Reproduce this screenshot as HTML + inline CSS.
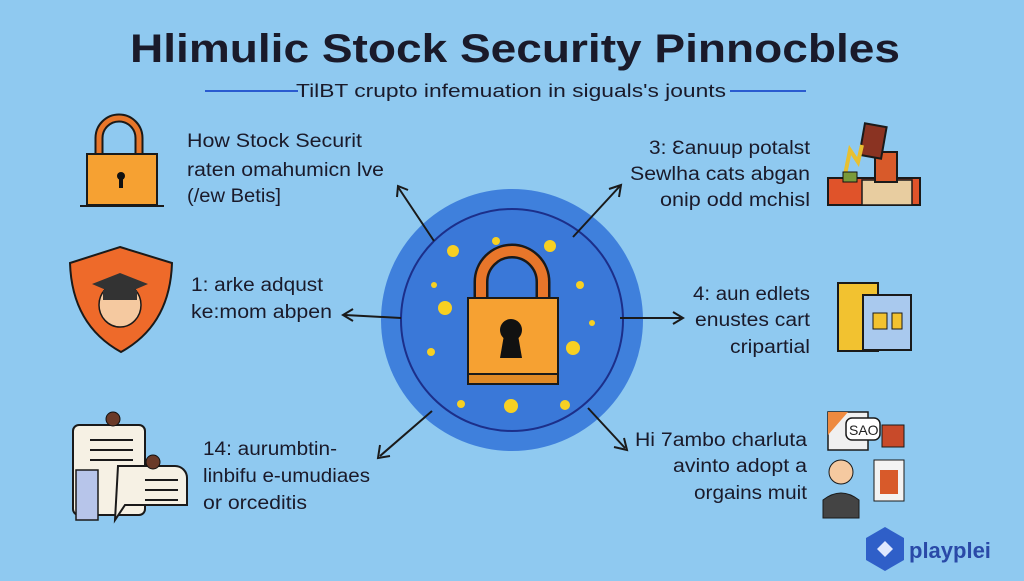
<!DOCTYPE html>
<html><head><style>
body{margin:0;width:1024px;height:576px;overflow:hidden;background:#8fc9f0;font-family:"Liberation Sans",sans-serif;}
</style></head><body>
<svg width="1024" height="576" viewBox="0 0 1024 576" xmlns="http://www.w3.org/2000/svg" font-family="Liberation Sans, sans-serif">
<rect width="1024" height="576" fill="#8fc9f0"/>
<text x="130" y="62" font-size="40" font-weight="bold" fill="#1a1a2a" textLength="770" lengthAdjust="spacingAndGlyphs">Hlimulic Stock Security Pinnocbles</text>
<line x1="205" y1="91" x2="298" y2="91" stroke="#2a5bd0" stroke-width="2"/>
<line x1="730" y1="91" x2="806" y2="91" stroke="#2a5bd0" stroke-width="2"/>
<text x="296" y="97" font-size="18" fill="#1a1a2a" textLength="430" lengthAdjust="spacingAndGlyphs">TilBT crupto infemuation in siguals's jounts</text>

<!-- center -->
<circle cx="512" cy="320" r="131" fill="#3f80dc"/>
<circle cx="512" cy="320" r="111" fill="#3a78d8" stroke="#1c2f8a" stroke-width="2"/>
<g fill="#f7d022">
<circle cx="453" cy="251" r="6"/><circle cx="496" cy="241" r="4"/><circle cx="550" cy="246" r="6"/><circle cx="580" cy="285" r="4"/><circle cx="592" cy="323" r="3"/><circle cx="573" cy="348" r="7"/><circle cx="565" cy="405" r="5"/><circle cx="511" cy="406" r="7"/><circle cx="461" cy="404" r="4"/><circle cx="431" cy="352" r="4"/><circle cx="445" cy="308" r="7"/><circle cx="434" cy="285" r="3"/>
</g>
<path d="M481 298 V282 a31 31 0 0 1 62 0 V298" fill="none" stroke="#1a1a1a" stroke-width="15"/>
<path d="M481 298 V282 a31 31 0 0 1 62 0 V298" fill="none" stroke="#e8762a" stroke-width="10"/>
<rect x="468" y="298" width="90" height="86" fill="#f6a132" stroke="#1a1a1a" stroke-width="2"/>
<rect x="468" y="374" width="90" height="10" fill="#e08a26" stroke="#1a1a1a" stroke-width="2"/>
<circle cx="511" cy="330" r="11" fill="#111"/><path d="M504 335 L500 358 H522 L518 335Z" fill="#111"/>

<!-- arrows -->
<g stroke="#1a1a1a" stroke-width="2" fill="none">
<line x1="434" y1="241" x2="398" y2="187"/><path d="M397 197 L398 186 L408 190"/>
<line x1="401" y1="318" x2="345" y2="315"/><path d="M353 309 L343 315 L353 321"/>
<line x1="432" y1="411" x2="380" y2="456"/><path d="M380 445 L378 458 L390 456"/>
<line x1="573" y1="237" x2="620" y2="186"/><path d="M609 189 L621 185 L619 197"/>
<line x1="620" y1="318" x2="681" y2="318"/><path d="M673 312 L683 318 L673 324"/>
<line x1="588" y1="408" x2="625" y2="448"/><path d="M614 447 L627 450 L624 438"/>
</g>

<!-- texts -->
<g font-size="19" fill="#1a1a2a" lengthAdjust="spacingAndGlyphs">
<text x="187" y="147" textLength="175" lengthAdjust="spacingAndGlyphs">How Stock Securit</text>
<text x="187" y="176" textLength="197" lengthAdjust="spacingAndGlyphs">raten omahumicn lve</text>
<text x="187" y="202" textLength="94" lengthAdjust="spacingAndGlyphs">(/ew Betis]</text>
<text x="191" y="291" textLength="132" lengthAdjust="spacingAndGlyphs">1: arke adqust</text>
<text x="191" y="318" textLength="141" lengthAdjust="spacingAndGlyphs">ke:mom abpen</text>
<text x="203" y="455" textLength="134" lengthAdjust="spacingAndGlyphs">14: aurumbtin-</text>
<text x="203" y="482" textLength="167" lengthAdjust="spacingAndGlyphs">linbifu e-umudiaes</text>
<text x="203" y="509" textLength="104" lengthAdjust="spacingAndGlyphs">or orceditis</text>
<text x="649" y="154" textLength="161" lengthAdjust="spacingAndGlyphs">3: Ɛanuup potalst</text>
<text x="630" y="180" textLength="180" lengthAdjust="spacingAndGlyphs">Sewlha cats abgan</text>
<text x="660" y="206" textLength="150" lengthAdjust="spacingAndGlyphs">onip odd mchisl</text>
<text x="693" y="300" textLength="117" lengthAdjust="spacingAndGlyphs">4: aun edlets</text>
<text x="695" y="326" textLength="115" lengthAdjust="spacingAndGlyphs">enustes cart</text>
<text x="730" y="353" textLength="80" lengthAdjust="spacingAndGlyphs">cripartial</text>
<text x="635" y="446" textLength="172" lengthAdjust="spacingAndGlyphs">Hi 7ambo charluta</text>
<text x="673" y="472" textLength="134" lengthAdjust="spacingAndGlyphs">avinto adopt a</text>
<text x="694" y="499" textLength="113" lengthAdjust="spacingAndGlyphs">orgains muit</text>
</g>

<!-- left icons -->
<path d="M99 155 V138 a20 20 0 0 1 40 0 V155" fill="none" stroke="#1a1a1a" stroke-width="9"/>
<path d="M99 155 V138 a20 20 0 0 1 40 0 V155" fill="none" stroke="#e8762a" stroke-width="5"/>
<rect x="87" y="154" width="70" height="51" fill="#f6a132" stroke="#1a1a1a" stroke-width="2"/>
<line x1="80" y1="206" x2="164" y2="206" stroke="#1a1a1a" stroke-width="2"/>
<circle cx="121" cy="176" r="4" fill="#111"/><rect x="119" y="176" width="4" height="12" fill="#111"/>

<path d="M120 247 L172 263 Q170 325 121 352 Q72 325 70 263 Z" fill="#ee6a2a" stroke="#1a1a1a" stroke-width="2"/>
<ellipse cx="120" cy="305" rx="21" ry="22" fill="#f5c9a0" stroke="#1a1a1a" stroke-width="1.5"/>
<path d="M92 284 L120 273 L148 284 L120 296Z" fill="#333"/>
<path d="M103 290 V300 H137 V290" fill="#333"/>

<rect x="73" y="425" width="72" height="90" fill="#f6f1e4" stroke="#1a1a1a" stroke-width="2" rx="6"/>
<rect x="76" y="470" width="22" height="50" fill="#b7c5ea" stroke="#1a1a1a" stroke-width="1.5"/>
<g stroke="#1a1a1a" stroke-width="2"><line x1="90" y1="440" x2="133" y2="440"/><line x1="90" y1="450" x2="133" y2="450"/><line x1="90" y1="460" x2="133" y2="460"/></g>
<path d="M118 466 H175 a12 12 0 0 1 12 12 V505 H125 L115 520Z" fill="#f6f1e4" stroke="#1a1a1a" stroke-width="2"/>
<g stroke="#1a1a1a" stroke-width="2"><line x1="145" y1="480" x2="178" y2="480"/><line x1="145" y1="490" x2="178" y2="490"/><line x1="145" y1="500" x2="178" y2="500"/></g>
<circle cx="113" cy="419" r="7" fill="#6a3a28" stroke="#111"/><circle cx="153" cy="462" r="7" fill="#6a3a28" stroke="#111"/>

<!-- right icons -->
<rect x="828" y="178" width="92" height="27" fill="#e0532a" stroke="#1a1a1a" stroke-width="2"/>
<rect x="862" y="180" width="50" height="25" fill="#e8cda0" stroke="#1a1a1a" stroke-width="1.5"/>
<rect x="875" y="152" width="22" height="30" fill="#d85a2a" stroke="#1a1a1a" stroke-width="2"/>
<rect x="862" y="125" width="22" height="32" fill="#8a3322" stroke="#1a1a1a" stroke-width="2" transform="rotate(10 873 141)"/>
<path d="M845 175 L850 150 L858 162 L862 145" stroke="#e8c030" stroke-width="4" fill="none"/>
<rect x="843" y="172" width="14" height="10" fill="#7a9a3a" stroke="#111"/>

<rect x="838" y="283" width="40" height="68" fill="#f2c230" stroke="#1a1a1a" stroke-width="2"/>
<rect x="863" y="295" width="48" height="55" fill="#a9c9ee" stroke="#1a1a1a" stroke-width="2"/>
<g fill="#f2c230" stroke="#1a1a1a"><rect x="873" y="313" width="14" height="16"/><rect x="892" y="313" width="10" height="16"/></g>

<rect x="828" y="412" width="40" height="38" fill="#f0f0f0" stroke="#1a1a1a" stroke-width="1.5"/>
<path d="M828 412 H848 L828 435Z" fill="#ee8a40"/>
<rect x="846" y="418" width="34" height="22" rx="6" fill="#fff" stroke="#1a1a1a" stroke-width="1.5"/>
<text x="849" y="435" font-size="14" fill="#222">SAO</text>
<rect x="882" y="425" width="22" height="22" fill="#c84a2a" stroke="#1a1a1a"/>
<circle cx="841" cy="472" r="12" fill="#f5c9a0" stroke="#1a1a1a"/>
<path d="M823 518 V500 Q841 486 859 500 V518Z" fill="#444" stroke="#1a1a1a"/>
<rect x="874" y="460" width="30" height="41" fill="#f3f3f3" stroke="#1a1a1a"/>
<rect x="880" y="470" width="18" height="24" fill="#d85a2a"/>

<!-- logo -->
<path d="M885 527 L904 538 V560 L885 571 L866 560 V538Z" fill="#2f5fc8"/>
<path d="M885 541 L893 549 L885 557 L877 549Z" fill="#dfe8ff"/>
<text x="909" y="558" font-size="22" font-weight="bold" fill="#2a4aa8">playplei</text>
</svg>
</body></html>
